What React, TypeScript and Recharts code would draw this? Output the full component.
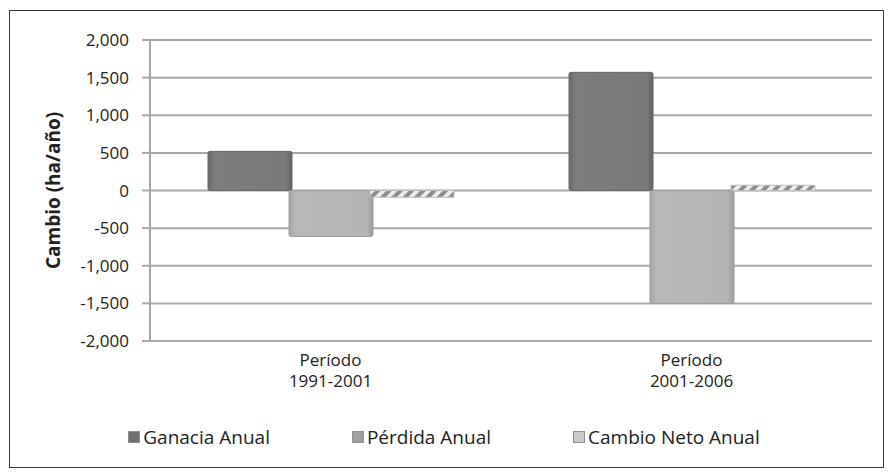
import React from "react";
import { BarChart, Bar, XAxis, YAxis, CartesianGrid } from "recharts";

const categories = ["Período 1991-2001", "Período 2001-2006"];
const ganancia = [520, 1570];
const perdida = [-610, -1500];
const neto = [-90, 70];
const yTicks = [-2000, -1500, -1000, -500, 0, 500, 1000, 1500, 2000];
const seriesNames = ["Ganacia Anual", "Pérdida Anual", "Cambio Neto Anual"];

const data = categories.map((c, i) => ({
  category: c,
  ganancia: ganancia[i],
  perdida: perdida[i],
  neto: neto[i],
}));

const FONT = "'Open Sans', sans-serif";
const swatch = ["#6f6f6f", "#a0a0a0", "#cacaca"];

function CategoryTick(props: any) {
  const { x, y, payload } = props;
  const text: string = payload.value;
  const idx = text.indexOf(" ");
  const l1 = text.slice(0, idx);
  const l2 = text.slice(idx + 1);
  return (
    <g>
      <text x={x} y={y + 17} textAnchor="middle" fontSize={17} fill="#222" fontFamily={FONT}>
        {l1}
      </text>
      <text x={x} y={y + 38} textAnchor="middle" fontSize={17} fill="#222" fontFamily={FONT}>
        {l2}
      </text>
    </g>
  );
}

export default function App() {
  return (
    <div style={{ position: "absolute", left: 0, top: 0, width: 888, height: 476, background: "#fff" }}>
      <div
        style={{
          position: "absolute",
          left: 9,
          top: 10,
          width: 873,
          height: 456,
          border: "1px solid #3a3a3a",
        }}
      />
      <div style={{ position: "absolute", left: 0, top: 0 }}>
        <BarChart
          width={888}
          height={476}
          data={data}
          margin={{ top: 40, right: 16, bottom: 95, left: 0 }}
          barSize={84}
          barGap={-3}
        >
          <defs>
            <linearGradient id="gGan" x1="0" y1="0" x2="1" y2="0">
              <stop offset="0%" stopColor="#6a6a6a" />
              <stop offset="8%" stopColor="#7d7d7d" />
              <stop offset="92%" stopColor="#7a7a7a" />
              <stop offset="100%" stopColor="#636363" />
            </linearGradient>
            <linearGradient id="gPer" x1="0" y1="0" x2="1" y2="0">
              <stop offset="0%" stopColor="#a5a5a5" />
              <stop offset="8%" stopColor="#b8b8b8" />
              <stop offset="92%" stopColor="#b5b5b5" />
              <stop offset="100%" stopColor="#9e9e9e" />
            </linearGradient>
            <pattern id="pNeto" width="8" height="8" patternUnits="userSpaceOnUse" patternTransform="rotate(45)">
              <rect width="8" height="8" fill="#ececec" />
              <rect width="4" height="8" fill="#8c8c8c" />
            </pattern>
          </defs>
          <CartesianGrid vertical={false} stroke="#a8a8a8" strokeWidth={2} />
          <XAxis
            dataKey="category"
            axisLine={false}
            tickLine={false}
            height={40}
            tick={<CategoryTick />}
            interval={0}
          />
          <YAxis
            width={150}
            domain={[-2000, 2000]}
            ticks={yTicks}
            interval={0}
            tickFormatter={(v: number) => v.toLocaleString("en-US")}
            axisLine={{ stroke: "#a8a8a8", strokeWidth: 2 }}
            tickLine={{ stroke: "#a8a8a8", strokeWidth: 2 }}
            tickSize={8}
            tickMargin={13}
            tick={{ fontSize: 17, fill: "#222", fontFamily: FONT }}
            label={{
              value: "Cambio (ha/año)",
              angle: -90,
              position: "insideLeft",
              dx: 48,
              style: { fontSize: 19, fontWeight: 700, fill: "#222", fontFamily: FONT, textAnchor: "middle" },
            }}
          />
          <Bar dataKey="ganancia" name={seriesNames[0]} fill="url(#gGan)" stroke="#666" strokeWidth={1} radius={2} isAnimationActive={false} />
          <Bar dataKey="perdida" name={seriesNames[1]} fill="url(#gPer)" stroke="#9c9c9c" strokeWidth={1} radius={2} isAnimationActive={false} />
          <Bar dataKey="neto" name={seriesNames[2]} fill="url(#pNeto)" stroke="#bdbdbd" strokeWidth={1} isAnimationActive={false} />
        </BarChart>
      </div>
      <div
        style={{
          position: "absolute",
          left: 0,
          top: 424,
          width: 888,
          display: "flex",
          justifyContent: "center",
          gap: 82,
          fontFamily: FONT,
          fontSize: 19,
          color: "#222",
        }}
      >
        {seriesNames.map((n, i) => (
          <div key={n} style={{ display: "flex", alignItems: "center", gap: 3 }}>
            <div style={{ width: 10, height: 10, background: swatch[i], border: "1px solid #8f8f8f" }} />
            <span>{n}</span>
          </div>
        ))}
      </div>
    </div>
  );
}
